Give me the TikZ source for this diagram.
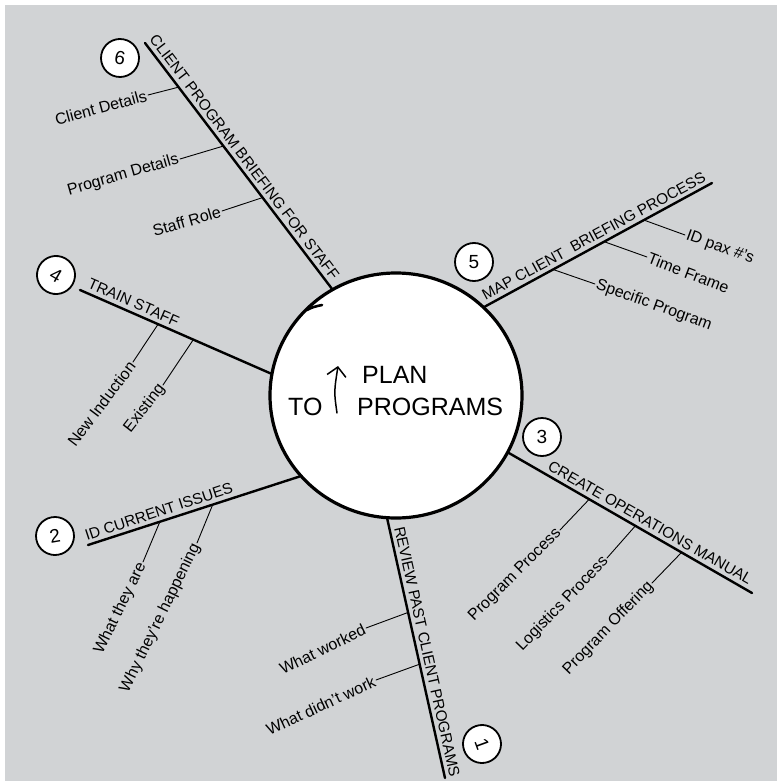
\documentclass[tikz,border=0pt]{standalone}
\usepackage{fontspec}
\setmainfont{Liberation Sans}
\usetikzlibrary{shapes,calc,arrows.meta}
\definecolor{paper_gray}{RGB}{209,211,213}

\begin{document}
\begin{tikzpicture}[x=1pt,y=-1pt,line cap=round]
    \tikzstyle{hub}=[draw, ellipse, fill=white, line width=3.2pt, minimum width=252, minimum height=245, inner sep=0pt]
    \tikzstyle{num}=[draw, circle, fill=white, line width=1.8pt, minimum size=38, inner sep=0pt, font=\fontsize{19}{19}\selectfont]
    \tikzstyle{branch}=[line width=2.4pt]
    \tikzstyle{twig}=[line width=0.9pt]
    \tikzstyle{title}=[font=\fontsize{15.3}{16}\selectfont, inner sep=4.5pt, anchor=south]
    \tikzstyle{leaf}=[font=\fontsize{16}{17}\selectfont, inner sep=1.5pt]
    \tikzstyle{hubtext}=[font=\fontsize{25}{26}\selectfont, inner sep=0pt, anchor=base west]

    \useasboundingbox (0,0) rectangle (777,781);
    \fill[paper_gray] (5,5) rectangle (777,781);

    % centre
    \node[hub] (hub) at (396,395.5) {};
    \draw[line width=2.6pt] (307,310) .. controls (313,307) .. (322,305);
    \node[hubtext] (plan)     at (362,383) {PLAN};
    \node[hubtext] (programs) at (357,415) {PROGRAMS};
    \node[hubtext] (to)       at (288,415) {TO};
    \coordinate (foot) at (337,413);
    \coordinate (tip)  at (338,366);
    \draw[line width=1.5pt, -{Straight Barb[length=9pt,width=19pt]}] (foot) .. controls (334,392) .. (tip);

    % branch ends
    \coordinate (e6) at (145,43);
    \coordinate (e4) at (80,290);
    \coordinate (e2) at (88,545);
    \coordinate (e1) at (445,778);
    \coordinate (e3) at (752,593);
    \coordinate (e5) at (712,183);

    \draw[branch] (e6) -- coordinate[pos=.49] (m6) (hub.121);
    \draw[branch] (e4) -- coordinate[pos=.26] (m4) (hub.170);
    \draw[branch] (e2) -- coordinate[pos=.35] (m2) (hub.220);
    \draw[branch] (hub.266) -- coordinate[pos=.52] (m1) (e1);
    \draw[branch] (hub.333) -- coordinate[pos=.56] (m3) (e3);
    \draw[branch] (hub.45) -- coordinate[pos=.5] (m5) (e5);

    \node[title,rotate=-52.8] (t6) at (m6) {CLIENT PROGRAM BRIEFING FOR STAFF};
    \node[title,rotate=-23.6] (t4) at (m4) {TRAIN STAFF};
    \node[title,rotate=18.3]  (t2) at (m2) {ID CURRENT ISSUES};
    \node[title,rotate=-77.4] (t1) at (m1) {REVIEW PAST CLIENT PROGRAMS};
    \node[title,rotate=-29.9] (t3) at (m3) {CREATE OPERATIONS MANUAL};
    \node[title,rotate=28.5]  (t5) at (m5) {MAP CLIENT\ \ BRIEFING PROCESS};

    % numbers
    \node[num,rotate=-10] (n6) at (120,58)  {6};
    \node[num,rotate=-30] (n4) at (56,275)  {4};
    \node[num,rotate=10]  (n2) at (55,536)  {2};
    \node[num,rotate=-70] (n1) at (482,744) {1};
    \node[num]            (n3) at (542,437) {3};
    \node[num]            (n5) at (474,262) {5};

    % points on the branches
    \coordinate (b6a) at ($(e6)!0.18!(hub.121)$);
    \coordinate (b6b) at ($(e6)!0.42!(hub.121)$);
    \coordinate (b6c) at ($(e6)!0.63!(hub.121)$);
    \coordinate (b4a) at ($(e4)!0.41!(hub.170)$);
    \coordinate (b4b) at ($(e4)!0.595!(hub.170)$);
    \coordinate (b2a) at ($(e2)!0.34!(hub.220)$);
    \coordinate (b2b) at ($(e2)!0.59!(hub.220)$);
    \coordinate (b1a) at ($(hub.266)!0.36!(e1)$);
    \coordinate (b1b) at ($(hub.266)!0.56!(e1)$);
    \coordinate (b3a) at ($(hub.333)!0.33!(e3)$);
    \coordinate (b3b) at ($(hub.333)!0.52!(e3)$);
    \coordinate (b3c) at ($(hub.333)!0.71!(e3)$);
    \coordinate (b5a) at ($(hub.45)!0.70!(e5)$);
    \coordinate (b5b) at ($(hub.45)!0.525!(e5)$);
    \coordinate (b5c) at ($(hub.45)!0.30!(e5)$);

    \node[leaf,rotate=15,anchor=east]  (l6a) at (148,95)  {Client Details};
    \node[leaf,rotate=16,anchor=east]  (l6b) at (180,159) {Program Details};
    \node[leaf,rotate=16,anchor=east]  (l6c) at (222,211) {Staff Role};
    \node[leaf,rotate=53,anchor=east]  (l4a) at (133,362) {New Induction};
    \node[leaf,rotate=52,anchor=east]  (l4b) at (163,385) {Existing};
    \node[leaf,rotate=64,anchor=east]  (l2a) at (143,562) {What they are};
    \node[leaf,rotate=64,anchor=east]  (l2b) at (197,543) {Why they're happening};
    \node[leaf,rotate=26,anchor=east]  (l1a) at (366,628) {What worked};
    \node[leaf,rotate=25,anchor=east]  (l1b) at (376,680) {What didn't work};
    \node[leaf,rotate=45,anchor=east]  (l3a) at (560,530) {Program Process};
    \node[leaf,rotate=46,anchor=east]  (l3b) at (607,558) {Logistics Process};
    \node[leaf,rotate=46,anchor=east]  (l3c) at (652,583) {Program Offering};
    \node[leaf,rotate=-20,anchor=west] (l5a) at (685,235) {ID pax \#'s};
    \node[leaf,rotate=-21,anchor=west] (l5b) at (647,257) {Time Frame};
    \node[leaf,rotate=-20,anchor=west] (l5c) at (595,284) {Specific Program};

    \draw[twig] (b6a) -- (l6a.east);
    \draw[twig] (b6b) -- (l6b.east);
    \draw[twig] (b6c) -- (l6c.east);
    \draw[twig] (b4a) -- (l4a.east);
    \draw[twig] (b4b) -- (l4b.east);
    \draw[twig] (b2a) -- (l2a.east);
    \draw[twig] (b2b) -- (l2b.east);
    \draw[twig] (b1a) -- (l1a.east);
    \draw[twig] (b1b) -- (l1b.east);
    \draw[twig] (b3a) -- (l3a.east);
    \draw[twig] (b3b) -- (l3b.east);
    \draw[twig] (b3c) -- (l3c.east);
    \draw[twig] (b5a) -- (l5a.west);
    \draw[twig] (b5b) -- (l5b.west);
    \draw[twig] (b5c) -- (l5c.west);
\end{tikzpicture}
\end{document}
